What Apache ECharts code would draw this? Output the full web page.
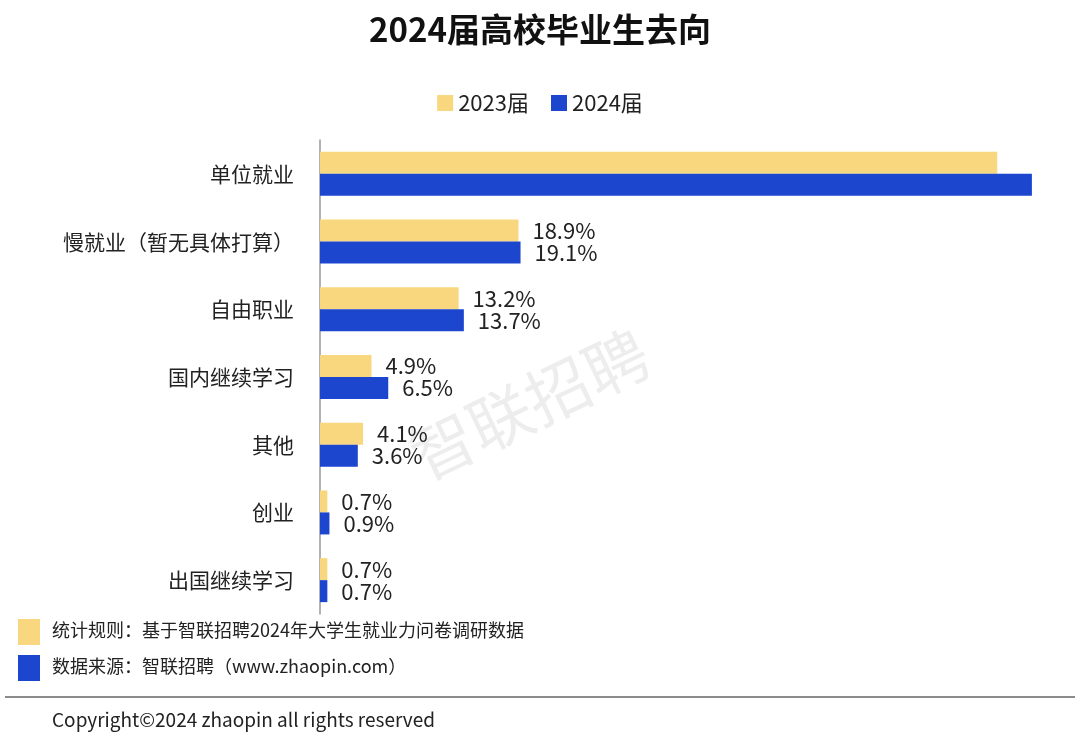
<!DOCTYPE html>
<html><head><meta charset="utf-8">
<script src="https://cdn.jsdelivr.net/npm/echarts@6/dist/echarts.min.js"></script>
<style>html,body{margin:0;padding:0;background:#fff}#c{width:1080px;height:744px}</style>
</head><body><div id="c"></div>
<script>
const categories = ['单位就业','慢就业（暂无具体打算）','自由职业','国内继续学习','其他','创业','出国继续学习'];
const v2023 = [64.5, 18.9, 13.2, 4.9, 4.1, 0.7, 0.7];
const v2024 = [67.8, 19.1, 13.7, 6.5, 3.6, 0.9, 0.7];
const font = '"Noto Sans CJK SC", sans-serif';
const lbl = {show:true, position:'right', distance:14, fontSize:22, color:'#222', fontFamily:font,
  formatter:p => p.dataIndex===0 ? '' : p.value.toFixed(1)+'%'};
const chart = echarts.init(document.getElementById('c'));
chart.setOption({
  animation:false,
  title:{text:'2024届高校毕业生去向', left:'center', top:8, textStyle:{fontSize:33, fontWeight:'bold', color:'#111', fontFamily:font}},
  legend:{top:87, left:'center', itemWidth:16, itemHeight:16, itemGap:22, icon:'rect',
    textStyle:{fontSize:22, color:'#222', fontFamily:font}},
  grid:{left:320, right:25, top:140, bottom:130, containLabel:false},
  xAxis:{type:'value', min:0, max:70, show:false},
  yAxis:{type:'category', data:categories, inverse:true,
    axisLine:{lineStyle:{color:'#999', width:1.5}}, axisTick:{show:false},
    axisLabel:{fontSize:21, color:'#222', margin:26, fontFamily:font}},
  series:[
    {name:'2023届', type:'bar', data:v2023, barWidth:22, barGap:'0%', itemStyle:{color:'#F9D77E'}, label:lbl},
    {name:'2024届', type:'bar', data:v2024, barWidth:22, itemStyle:{color:'#1D46CF'}, label:lbl}
  ],
  graphic:[
    {type:'text', left:400, top:320, rotation:Math.PI/7, style:{text:'智联招聘', fontSize:64, fill:'rgba(0,0,0,0.07)', fontFamily:font}},
    {type:'rect', shape:{x:18, y:619, width:22, height:26}, style:{fill:'#F9D77E'}},
    {type:'text', left:52, top:621, style:{text:'统计规则：基于智联招聘2024年大学生就业力问卷调研数据', fontSize:18, fill:'#222', fontFamily:font}},
    {type:'rect', shape:{x:18, y:655, width:22, height:26}, style:{fill:'#1D46CF'}},
    {type:'text', left:52, top:657, style:{text:'数据来源：智联招聘（www.zhaopin.com）', fontSize:18, fill:'#222', fontFamily:font}},
    {type:'line', shape:{x1:5, y1:697, x2:1075, y2:697}, style:{stroke:'#666', lineWidth:1.5}},
    {type:'text', left:52, top:710, style:{text:'Copyright©2024 zhaopin all rights reserved', fontSize:19, fill:'#222', fontFamily:font}}
  ]
});
</script></body></html>
